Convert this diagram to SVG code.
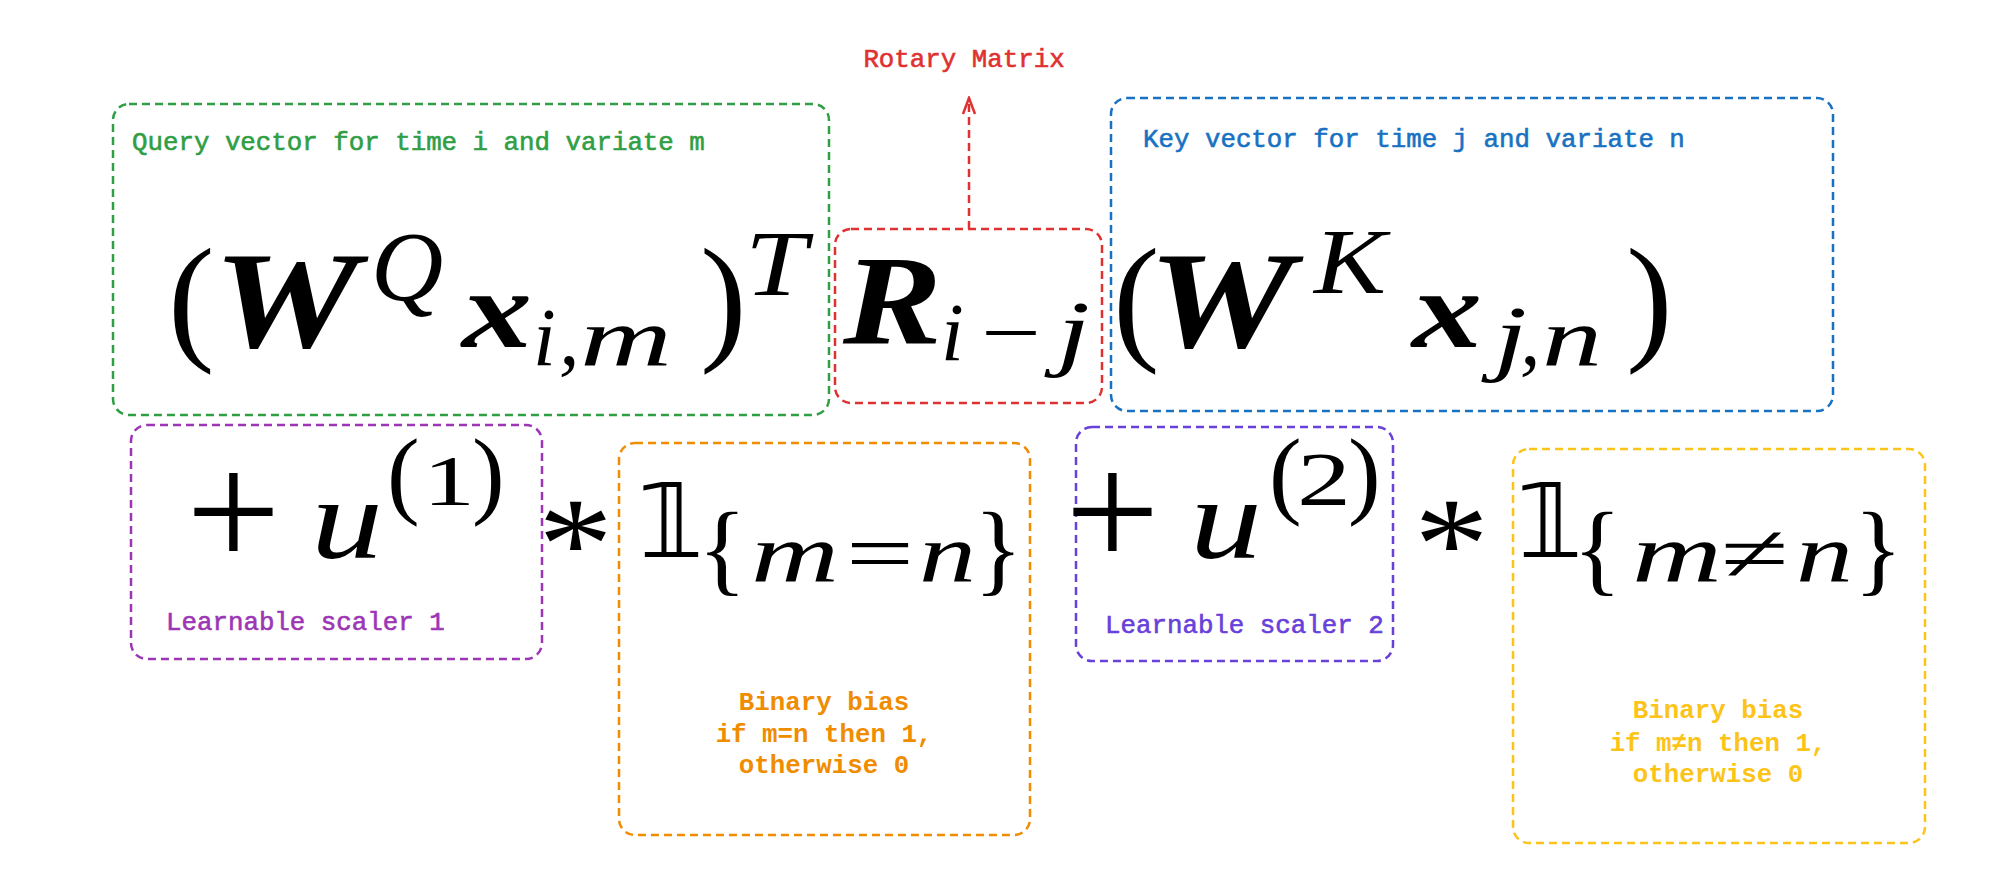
<svg xmlns="http://www.w3.org/2000/svg" width="2000" height="889" viewBox="0 0 2000 889">
<style>
.box{fill:none;stroke-width:2.5;stroke-dasharray:8 5}
.lbl{font-family:"Liberation Mono","DejaVu Sans Mono",monospace;font-size:25.8px;stroke-width:0.6}
.b{font-weight:bold;stroke-width:0}
.m{font-family:"Liberation Serif","Times New Roman",serif;fill:#000}
.bi{font-weight:bold;font-style:italic}
.it{font-style:italic}
.bb{font-family:"DejaVu Sans","DejaVu Serif",sans-serif}
</style>
<defs>
<marker id="open" viewBox="0 0 20 20" refX="18" refY="10" markerWidth="20" markerHeight="20" markerUnits="userSpaceOnUse" orient="auto">
<path d="M2,4 L18,10 L2,16" fill="none" stroke="#e03131" stroke-width="2.5"/>
</marker>
</defs>
<rect width="2000" height="889" fill="#fff"/>

<g id="connectors">
<line x1="969" y1="229" x2="969" y2="98" stroke="#e03131" stroke-width="2.5" stroke-dasharray="8 5" marker-end="url(#open)"/>
</g>

<g id="rotary-label">
<text class="lbl" x="964" y="67" text-anchor="middle" fill="#e03131" stroke="#e03131">Rotary Matrix</text>
</g>

<g id="query">
<rect class="box" x="113" y="104" width="716" height="311" rx="16" stroke="#2f9e44"/>
<text class="lbl" x="132" y="150" fill="#2f9e44" stroke="#2f9e44">Query vector for time i and variate m</text>
<text class="m"><tspan x="168" y="345" font-size="140">(</tspan><tspan class="bi" x="213" y="347" font-size="137" textLength="146" lengthAdjust="spacingAndGlyphs">W</tspan><tspan class="it" x="371" y="300" font-size="100">Q</tspan><tspan class="bi" x="462" y="347" font-size="110" textLength="70" lengthAdjust="spacingAndGlyphs">x</tspan><tspan class="it" x="533" y="365" font-size="82">i</tspan><tspan class="it" x="559" y="365" font-size="82">,</tspan><tspan class="it" x="580" y="365" font-size="82" textLength="92" lengthAdjust="spacingAndGlyphs">m</tspan><tspan x="700" y="345" font-size="140">)</tspan><tspan class="it" x="745" y="295" font-size="94" textLength="62" lengthAdjust="spacingAndGlyphs">T</tspan></text>
</g>

<g id="rotary">
<rect class="box" x="835" y="229" width="267" height="174" rx="16" stroke="#e03131"/>
<text class="m"><tspan class="bi" x="843" y="343" font-size="128" textLength="99" lengthAdjust="spacingAndGlyphs">R</tspan><tspan class="it" x="941" y="360" font-size="82">i</tspan><tspan x="981" y="360" font-size="82" textLength="60" lengthAdjust="spacingAndGlyphs">−</tspan><tspan class="it" x="1057" y="360" font-size="85" textLength="33" lengthAdjust="spacingAndGlyphs">j</tspan></text>
</g>

<g id="key">
<rect class="box" x="1111" y="98" width="722" height="313" rx="16" stroke="#1971c2"/>
<text class="lbl" x="1143" y="147" fill="#1971c2" stroke="#1971c2">Key vector for time j and variate n</text>
<text class="m"><tspan x="1113" y="345" font-size="140">(</tspan><tspan class="bi" x="1148" y="347" font-size="137" textLength="146" lengthAdjust="spacingAndGlyphs">W</tspan><tspan class="it" x="1314" y="293" font-size="93" textLength="72" lengthAdjust="spacingAndGlyphs">K</tspan><tspan class="bi" x="1412" y="347" font-size="110" textLength="70" lengthAdjust="spacingAndGlyphs">x</tspan><tspan class="it" x="1494" y="365" font-size="85" textLength="33" lengthAdjust="spacingAndGlyphs">j</tspan><tspan class="it" x="1520" y="365" font-size="82">,</tspan><tspan class="it" x="1542" y="365" font-size="82" textLength="60" lengthAdjust="spacingAndGlyphs">n</tspan><tspan x="1626" y="345" font-size="140">)</tspan></text>
</g>

<g id="scaler1">
<rect class="box" x="131" y="425" width="411" height="234" rx="16" stroke="#9c36b5"/>
<text class="lbl" x="166" y="630" fill="#9c36b5" stroke="#9c36b5">Learnable scaler 1</text>
<text class="m"><tspan x="186" y="568" font-size="168">+</tspan><tspan class="it" x="311" y="558" font-size="115" textLength="72" lengthAdjust="spacingAndGlyphs">u</tspan><tspan x="387" y="506" font-size="98">(</tspan><tspan x="423" y="505" font-size="72" textLength="52" lengthAdjust="spacingAndGlyphs">1</tspan><tspan x="472" y="506" font-size="98">)</tspan></text>
</g>

<g id="mul1">
<text class="m" x="538" y="588" font-size="131" textLength="75" lengthAdjust="spacingAndGlyphs">*</text>
</g>

<g id="bias1">
<rect class="box" x="619" y="443" width="411" height="392" rx="16" stroke="#f08c00"/>
<text class="m"><tspan class="bb" x="638" y="557" font-size="103">𝟙</tspan><tspan x="698" y="582" font-size="101">{</tspan><tspan class="it" x="751" y="581" font-size="82" textLength="88" lengthAdjust="spacingAndGlyphs">m</tspan><tspan x="846" y="581" font-size="82" textLength="68" lengthAdjust="spacingAndGlyphs">=</tspan><tspan class="it" x="919" y="581" font-size="82" textLength="57" lengthAdjust="spacingAndGlyphs">n</tspan><tspan x="974" y="582" font-size="101">}</tspan></text>
<text class="lbl b" text-anchor="middle" fill="#f08c00"><tspan x="824" y="710">Binary bias</tspan><tspan x="824" y="742">if m=n then 1,</tspan><tspan x="824" y="773">otherwise 0</tspan></text>
</g>

<g id="scaler2">
<rect class="box" x="1076" y="427" width="317" height="234" rx="16" stroke="#6741d9"/>
<text class="lbl" x="1105" y="633" fill="#6741d9" stroke="#6741d9">Learnable scaler 2</text>
<text class="m"><tspan x="1065" y="568" font-size="168">+</tspan><tspan class="it" x="1190" y="558" font-size="115" textLength="72" lengthAdjust="spacingAndGlyphs">u</tspan><tspan x="1269" y="506" font-size="98">(</tspan><tspan x="1297" y="505" font-size="76" textLength="54" lengthAdjust="spacingAndGlyphs">2</tspan><tspan x="1348" y="506" font-size="98">)</tspan></text>
</g>

<g id="mul2">
<text class="m" x="1414" y="588" font-size="131" textLength="75" lengthAdjust="spacingAndGlyphs">*</text>
</g>

<g id="bias2">
<rect class="box" x="1513" y="449" width="412" height="394" rx="16" stroke="#fcc419"/>
<text class="m"><tspan class="bb" x="1517" y="557" font-size="103">𝟙</tspan><tspan x="1573" y="582" font-size="101">{</tspan><tspan class="it" x="1632" y="581" font-size="82" textLength="90" lengthAdjust="spacingAndGlyphs">m</tspan><tspan x="1721" y="581" font-size="82" textLength="68" lengthAdjust="spacingAndGlyphs">≠</tspan><tspan class="it" x="1796" y="581" font-size="82" textLength="57" lengthAdjust="spacingAndGlyphs">n</tspan><tspan x="1854" y="582" font-size="101">}</tspan></text>
<text class="lbl b" text-anchor="middle" fill="#fcc419"><tspan x="1718" y="718">Binary bias</tspan><tspan x="1718" y="751">if m≠n then 1,</tspan><tspan x="1718" y="782">otherwise 0</tspan></text>
</g>
</svg>
